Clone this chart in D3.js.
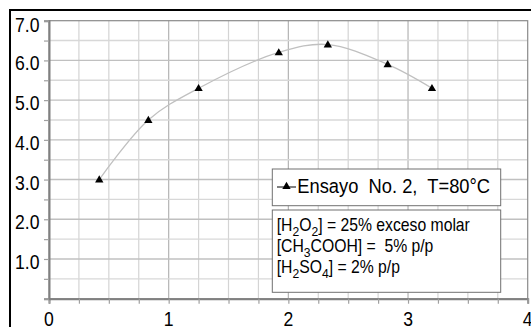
<!DOCTYPE html>
<html>
<head>
<meta charset="utf-8">
<script src="https://cdnjs.cloudflare.com/ajax/libs/d3/7.8.5/d3.min.js"></script>
<style>
  body { margin: 0; background: #fff; }
  svg { display: block; font-family: "Liberation Sans", Arial, sans-serif; }
</style>
</head>
<body>
<div id="chart"></div>
<script>
var xVals = [0.42, 0.83, 1.25, 1.92, 2.33, 2.83, 3.2];
var yVals = [3.0, 4.5, 5.3, 6.2, 6.4, 5.9, 5.3];
var xTicks = [0, 1, 2, 3, 4];
var yTicks = [1.0, 2.0, 3.0, 4.0, 5.0, 6.0, 7.0];
var legendLabel = "Ensayo  No. 2,  T=80°C";
var noteLines = [
  [["[H", 0], ["2", 1], ["O", 0], ["2", 1], ["] = 25% exceso molar", 0]],
  [["[CH", 0], ["3", 1], ["COOH] =  5% p/p", 0]],
  [["[H", 0], ["2", 1], ["SO", 0], ["4", 1], ["] = 2% p/p", 0]]
];

var W = 531, H = 327;
var m = { left: 49, top: 20.7, right: 527.7, bottom: 298.7 };

var svg = d3.select("#chart").append("svg")
    .attr("width", W)
    .attr("height", H);

var x = d3.scaleLinear().domain([0, 4]).range([m.left, m.right]);
var y = d3.scaleLinear().domain([0, 7]).range([m.bottom, m.top]);

// grid
var grid = svg.append("g");
d3.range(0.25, 4, 0.25).forEach(function(v){
    var major = Math.abs(v - Math.round(v)) < 1e-6;
    grid.append("line")
        .attr("x1", x(v)).attr("x2", x(v))
        .attr("y1", m.top).attr("y2", m.bottom)
        .attr("stroke", major ? "#b4b4b4" : "#d4d4d4")
        .attr("stroke-width", 1.2);
});
d3.range(0.5, 7, 0.5).forEach(function(v){
    var major = Math.abs(v - Math.round(v)) < 1e-6;
    grid.append("line")
        .attr("x1", m.left).attr("x2", m.right)
        .attr("y1", y(v)).attr("y2", y(v))
        .attr("stroke", major ? "#c0c0c0" : "#d8d8d8")
        .attr("stroke-width", 1.4);
});

// plot frame
svg.append("rect")
    .attr("x", m.left).attr("y", m.top)
    .attr("width", m.right - m.left).attr("height", m.bottom - m.top)
    .attr("fill", "none")
    .attr("stroke", "#8a8a8a")
    .attr("stroke-width", 1.2);

// axes
var xAxis = svg.append("g")
    .attr("transform", "translate(0," + m.bottom + ")")
    .call(d3.axisBottom(x).tickValues(d3.range(0, 4.01, 0.25)).tickSize(5).tickFormat(""));
var yAxis = svg.append("g")
    .attr("transform", "translate(" + m.left + ",0)")
    .call(d3.axisLeft(y).tickValues(d3.range(0, 7.01, 0.5)).tickSize(5).tickFormat(""));
[xAxis, yAxis].forEach(function(a){
    a.select(".domain").attr("stroke", "#808080").attr("stroke-width", 2);
    a.selectAll(".tick line").attr("stroke", "#a0a0a0").attr("stroke-width", 1.2);
});

// tick labels (slightly condensed like the original)
svg.append("g").selectAll("text")
    .data(xTicks).enter().append("text")
    .attr("transform", function(d){ return "translate(" + x(d) + ",325.5) scale(0.88,1)"; })
    .attr("text-anchor", "middle")
    .attr("font-size", 20)
    .text(function(d){ return d; });

svg.append("g").selectAll("text")
    .data(yTicks).enter().append("text")
    .attr("transform", function(d){
        return "translate(39.5," + Math.max(y(d) + 10, 32) + ") scale(0.88,1)";
    })
    .attr("text-anchor", "end")
    .attr("font-size", 20)
    .text(function(d){ return d.toFixed(1); });

// outer frame
svg.append("rect")
    .attr("x", 10).attr("y", 10)
    .attr("width", 540).attr("height", 340)
    .attr("fill", "none")
    .attr("stroke", "#000")
    .attr("stroke-width", 2);

// series
var pts = xVals.map(function(v, i){ return [v, yVals[i]]; });
var line = d3.line()
    .x(function(d){ return x(d[0]); })
    .y(function(d){ return y(d[1]); })
    .curve(d3.curveCatmullRom);
svg.append("path")
    .datum(pts)
    .attr("d", line)
    .attr("fill", "none")
    .attr("stroke", "#c0c0c0")
    .attr("stroke-width", 1.3);

var tri = d3.symbol().type(d3.symbolTriangle).size(30);
svg.append("g").selectAll("path")
    .data(pts).enter().append("path")
    .attr("d", tri)
    .attr("transform", function(d){ return "translate(" + x(d[0]) + "," + (y(d[1]) + 0.5) + ")"; })
    .attr("fill", "#000");

// legend box
svg.append("rect")
    .attr("x", 272.3).attr("y", 169)
    .attr("width", 228.4).attr("height", 36.7)
    .attr("fill", "#fff").attr("stroke", "#707070").attr("stroke-width", 1);
svg.append("line")
    .attr("x1", 277).attr("x2", 296).attr("y1", 187).attr("y2", 187)
    .attr("stroke", "#000").attr("stroke-width", 1);
svg.append("path")
    .attr("d", tri)
    .attr("transform", "translate(286.5,186.5)")
    .attr("fill", "#000");
svg.append("text")
    .attr("transform", "translate(297.3,193.3) scale(0.94,1)")
    .attr("font-size", 19.5)
    .style("white-space", "pre")
    .text(legendLabel);

// note box
svg.append("rect")
    .attr("x", 272.3).attr("y", 210)
    .attr("width", 228.4).attr("height", 82.3)
    .attr("fill", "#fff").attr("stroke", "#707070").attr("stroke-width", 1);
noteLines.forEach(function(parts, i){
    var t = svg.append("text")
        .attr("transform", "translate(276.7," + (231 + i * 21.2) + ") scale(0.9,1)")
        .attr("font-size", 17.5)
        .style("white-space", "pre");
    var shift = 0;
    parts.forEach(function(p){
        var target = p[1] ? 5 : 0;
        t.append("tspan")
            .attr("font-size", p[1] ? 13.5 : 17.5)
            .attr("dy", target - shift)
            .text(p[0]);
        shift = target;
    });
});
</script>
</body>
</html>
